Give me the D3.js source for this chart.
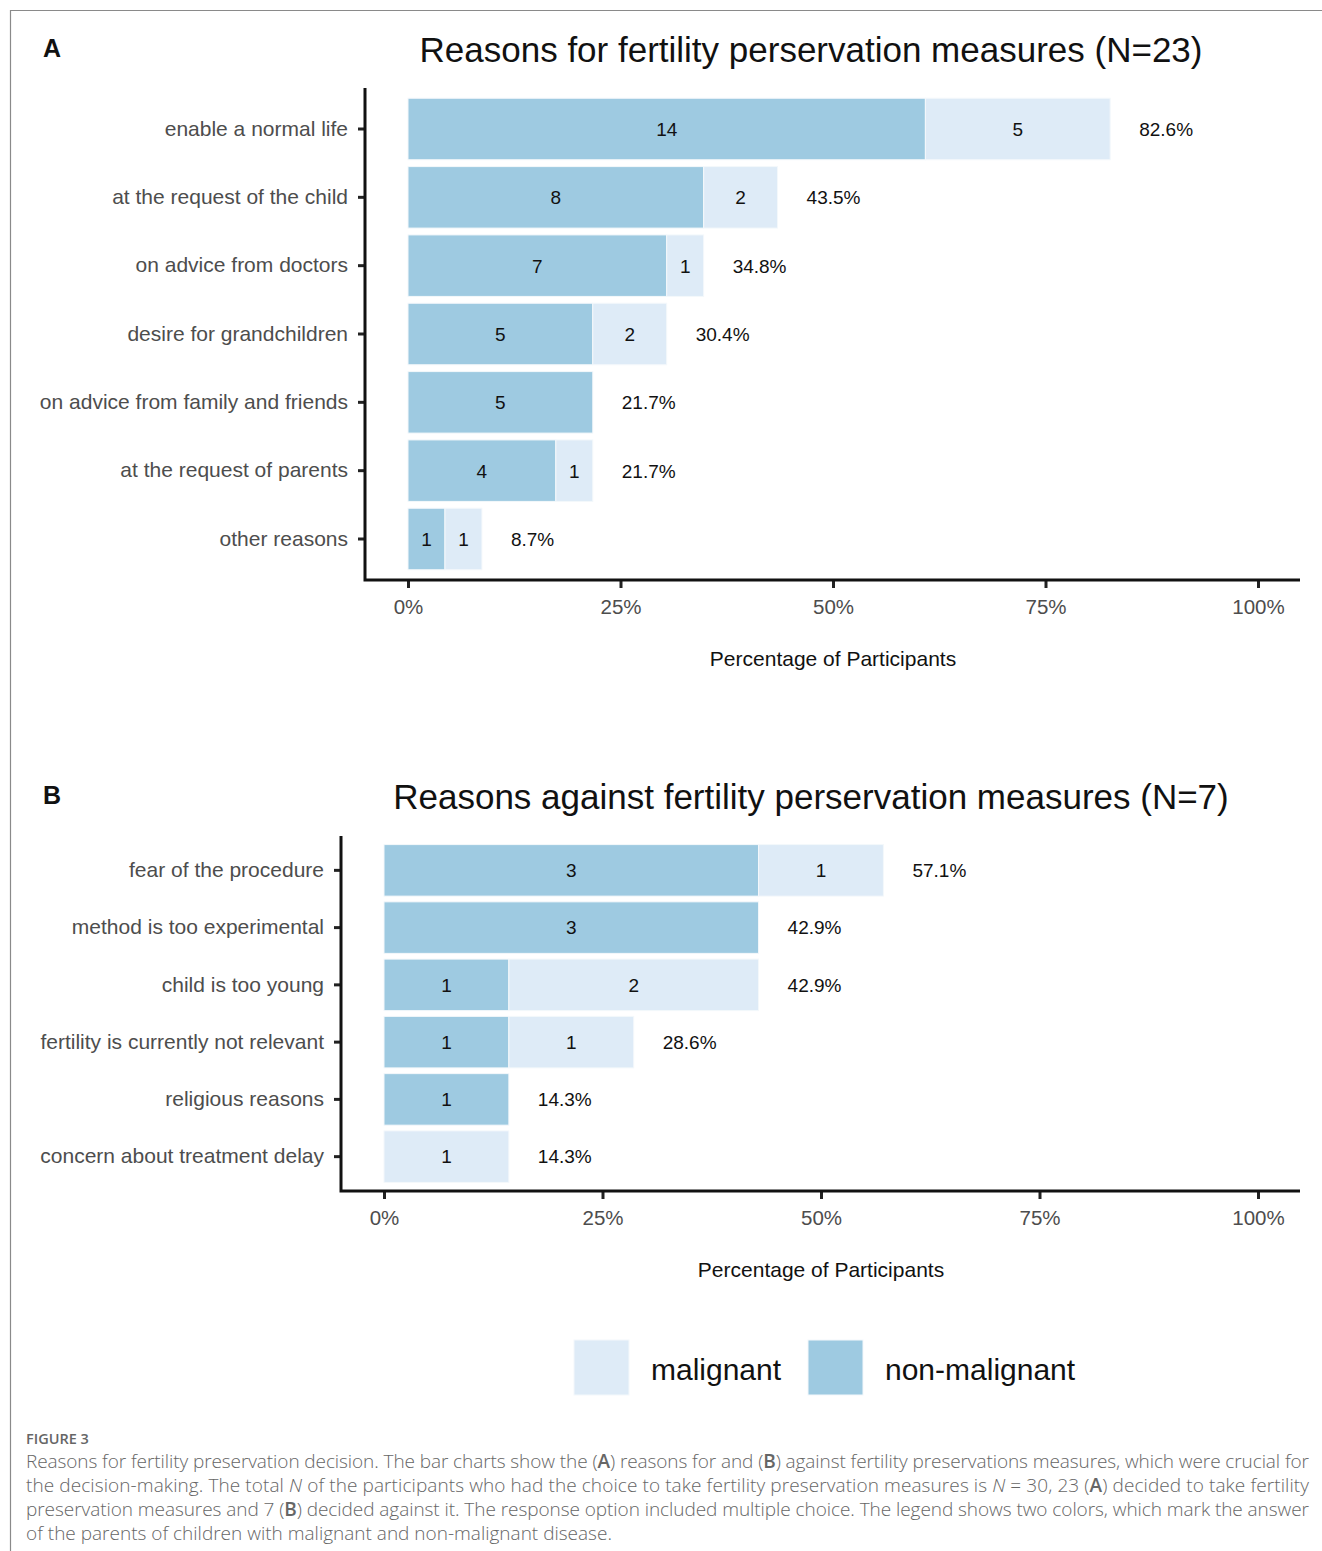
<!DOCTYPE html>
<html>
<head>
<meta charset="utf-8">
<script src="https://cdn.jsdelivr.net/npm/d3@7"></script>
<style>
  html, body { margin: 0; padding: 0; background: #fff; }
  svg { display: block; }
</style>
</head>
<body>
<svg id="fig" width="1322" height="1551"></svg>
<script>
// Panel A: reasons for fertility preservation (N = 23)
const reasonsFor = ["enable a normal life", "at the request of the child", "on advice from doctors",
  "desire for grandchildren", "on advice from family and friends", "at the request of parents", "other reasons"];
const forNonMalignant = [14, 8, 7, 5, 5, 4, 1];
const forMalignant = [5, 2, 1, 2, 0, 1, 1];
const forN = 23;

// Panel B: reasons against fertility preservation (N = 7)
const reasonsAgainst = ["fear of the procedure", "method is too experimental", "child is too young",
  "fertility is currently not relevant", "religious reasons", "concern about treatment delay"];
const againstNonMalignant = [3, 3, 1, 1, 1, 0];
const againstMalignant = [1, 0, 2, 1, 0, 1];
const againstN = 7;

const xTicks = [0, 25, 50, 75, 100];
const groups = ["malignant", "non-malignant"];
const groupColors = ["#deebf7", "#9ecae1"];

const svg = d3.select("#fig");
const FONT = "'Liberation Sans', Arial, sans-serif";
const color = d3.scaleOrdinal().domain(groups).range(groupColors);

// page frame
svg.append("path").attr("d", "M10.5,1551 V10.5 H1322")
  .attr("fill", "none").attr("stroke", "#8a8a8a").attr("stroke-width", 1.2);

function panel(cfg) {
  const g = svg.append("g");
  const x = d3.scaleLinear().domain([0, 100]).range([cfg.x0, cfg.x1]);
  const y = d3.scaleBand().domain(cfg.cats).range([cfg.yTop, cfg.yBot]).paddingInner(0.1).paddingOuter(0.15);

  const rows = cfg.cats.map((c, i) => ({
    cat: c, nm: cfg.nonMal[i], m: cfg.mal[i],
    pct: (cfg.nonMal[i] + cfg.mal[i]) / cfg.n * 100
  }));

  // stacked segments: non-malignant first, malignant appended
  const segs = [];
  rows.forEach(r => {
    const a = r.nm / cfg.n * 100, b = r.m / cfg.n * 100;
    if (r.nm > 0) segs.push({ cat: r.cat, start: 0, end: a, v: r.nm, grp: "non-malignant" });
    if (r.m > 0) segs.push({ cat: r.cat, start: a, end: a + b, v: r.m, grp: "malignant" });
  });

  g.selectAll("rect.seg").data(segs).join("rect").attr("class", "seg")
    .attr("x", d => x(d.start)).attr("width", d => x(d.end) - x(d.start))
    .attr("y", d => y(d.cat)).attr("height", y.bandwidth())
    .attr("fill", d => color(d.grp)).attr("stroke", "#f4f8fb").attr("stroke-width", 1);

  g.selectAll("text.val").data(segs).join("text").attr("class", "val")
    .attr("x", d => (x(d.start) + x(d.end)) / 2).attr("y", d => y(d.cat) + y.bandwidth() / 2)
    .attr("text-anchor", "middle").attr("dy", "0.36em")
    .attr("font-family", FONT).attr("font-size", 19).attr("fill", "#111")
    .text(d => d.v);

  g.selectAll("text.pct").data(rows).join("text").attr("class", "pct")
    .attr("x", d => x(d.pct) + 29).attr("y", d => y(d.cat) + y.bandwidth() / 2)
    .attr("dy", "0.36em")
    .attr("font-family", FONT).attr("font-size", 19).attr("fill", "#111")
    .text(d => d.pct.toFixed(1) + "%");

  // axes
  const yAxis = g.append("g").attr("transform", `translate(${cfg.axisX},0)`)
    .call(d3.axisLeft(y).tickSize(7).tickPadding(10));
  const xAxis = g.append("g").attr("transform", `translate(0,${cfg.yBot})`)
    .call(d3.axisBottom(x).tickValues(xTicks).tickFormat(d => d + "%").tickSize(8).tickPadding(11));
  [yAxis, xAxis].forEach(ax => {
    ax.select(".domain").remove();
    ax.selectAll(".tick line").attr("stroke", "#222").attr("stroke-width", 3);
    ax.selectAll(".tick text").attr("font-family", FONT).attr("fill", "#4d4d4d");
  });
  yAxis.selectAll(".tick text").attr("font-size", 21);
  xAxis.selectAll(".tick text").attr("font-size", 20.5);
  g.append("path").attr("d", `M${cfg.axisX},${cfg.yTop} V${cfg.yBot} H${cfg.axisRight}`)
    .attr("fill", "none").attr("stroke", "#111").attr("stroke-width", 3);

  g.append("text").attr("x", (cfg.x0 + cfg.x1) / 2).attr("y", cfg.yBot + 86)
    .attr("text-anchor", "middle").attr("font-family", FONT).attr("font-size", 21).attr("fill", "#111")
    .text("Percentage of Participants");

  g.append("text").attr("x", 811).attr("y", cfg.titleY)
    .attr("text-anchor", "middle").attr("font-family", FONT).attr("font-size", 35).attr("fill", "#111")
    .text(cfg.title);
  g.append("text").attr("x", 43).attr("y", cfg.tagY)
    .attr("font-family", FONT).attr("font-size", 25).attr("font-weight", "bold").attr("fill", "#111")
    .text(cfg.tag);
}

panel({
  cats: reasonsFor, nonMal: forNonMalignant, mal: forMalignant, n: forN,
  x0: 408, x1: 1258, axisX: 365, axisRight: 1300, yTop: 88, yBot: 580,
  title: "Reasons for fertility perservation measures (N=23)", titleY: 62, tagY: 57, tag: "A"
});
panel({
  cats: reasonsAgainst, nonMal: againstNonMalignant, mal: againstMalignant, n: againstN,
  x0: 384, x1: 1258, axisX: 341, axisRight: 1300, yTop: 836, yBot: 1191,
  title: "Reasons against fertility perservation measures (N=7)", titleY: 809, tagY: 804, tag: "B"
});

// legend
const legend = svg.append("g");
const legendX = [574, 808];
groups.forEach((grp, i) => {
  legend.append("rect").attr("x", legendX[i]).attr("y", 1340).attr("width", 55).attr("height", 55)
    .attr("fill", color(grp)).attr("stroke", "#f4f8fb").attr("stroke-width", 1);
  legend.append("text").attr("x", legendX[i] + 77).attr("y", 1369).attr("dy", "0.36em")
    .attr("font-family", FONT).attr("font-size", 30).attr("fill", "#111").text(grp);
});

// caption
const CAP = "'Open Sans', 'Noto Sans', sans-serif";
svg.append("text").attr("x", 26).attr("y", 1444)
  .attr("font-family", CAP).attr("font-size", 14.5).attr("font-weight", 600).attr("fill", "#666").text("FIGURE 3");

const captionLines = [
  [["Reasons for fertility preservation decision. The bar charts show the ("], ["A", "b"], [") reasons for and ("], ["B", "b"], [") against fertility preservations measures, which were crucial for"]],
  [["the decision-making. The total "], ["N", "i"], [" of the participants who had the choice to take fertility preservation measures is "], ["N", "i"], [" = 30, 23 ("], ["A", "b"], [") decided to take fertility"]],
  [["preservation measures and 7 ("], ["B", "b"], [") decided against it. The response option included multiple choice. The legend shows two colors, which mark the answer"]],
  [["of the parents of children with malignant and non-malignant disease."]]
];
captionLines.forEach((parts, i) => {
  const t = svg.append("text").attr("x", 26).attr("y", 1468 + i * 24)
    .attr("font-family", CAP).attr("font-size", 19).attr("font-weight", 300).attr("fill", "#666");
  if (i < captionLines.length - 1) t.attr("textLength", 1283).attr("lengthAdjust", "spacing");
  parts.forEach(p => {
    const s = t.append("tspan").text(p[0]);
    if (p[1] === "b") s.attr("font-weight", 600);
    if (p[1] === "i") s.attr("font-style", "italic");
  });
});
</script>
</body>
</html>
